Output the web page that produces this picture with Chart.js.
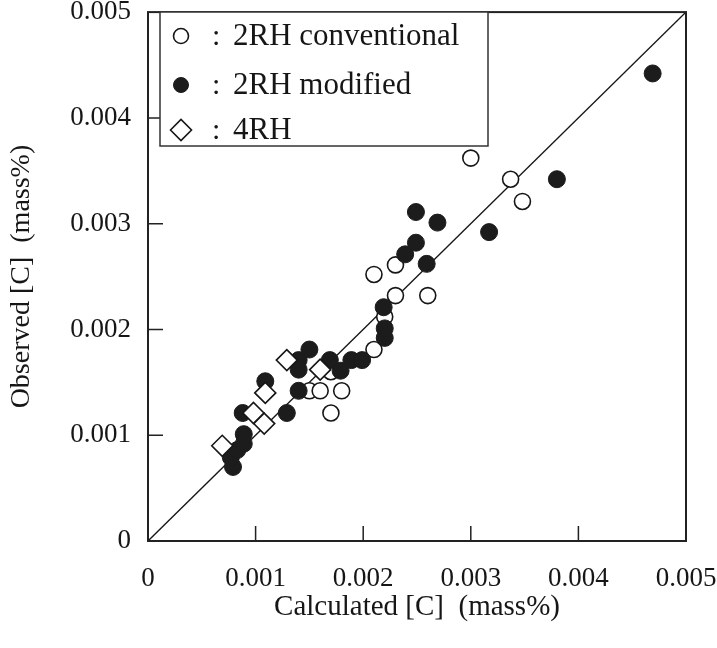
<!DOCTYPE html>
<html>
<head>
<meta charset="utf-8">
<script src="https://cdn.jsdelivr.net/npm/chart.js@4.4.1/dist/chart.umd.min.js"></script>
<style>
  html, body { margin: 0; padding: 0; background: #fff; }
  #wrap { width: 717px; height: 648px; position: relative; }
</style>
</head>
<body>
<div id="wrap"><canvas id="c" width="717" height="648"></canvas></div>
<script>
// ---- data ----
const seriesNames = ['2RH conventional', '2RH modified', '4RH'];

const conventionalX = [0.0015, 0.0016, 0.0018, 0.0017, 0.0017, 0.0021, 0.0022, 0.0021, 0.0023, 0.0023, 0.0026, 0.0030, 0.00337, 0.00348];
const conventionalY = [0.00142, 0.00142, 0.00142, 0.00121, 0.0016, 0.00181, 0.00212, 0.00252, 0.00232, 0.00261, 0.00232, 0.00362, 0.00342, 0.00321];

const modifiedX = [0.00079, 0.00077, 0.00083, 0.00089, 0.00089, 0.00088, 0.00109, 0.00129, 0.0014, 0.0014, 0.0014, 0.0015, 0.00169, 0.00179, 0.00189, 0.00199, 0.0022, 0.0022, 0.00219, 0.00239, 0.00249, 0.00249, 0.00269, 0.00259, 0.00317, 0.0038, 0.00469];
const modifiedY = [0.0007, 0.00079, 0.00086, 0.00092, 0.00101, 0.00121, 0.00151, 0.00121, 0.00142, 0.00162, 0.00171, 0.00181, 0.00171, 0.00161, 0.00171, 0.00171, 0.00192, 0.00201, 0.00221, 0.00271, 0.00282, 0.00311, 0.00301, 0.00262, 0.00292, 0.00342, 0.00442];

const rh4X = [0.00069, 0.00098, 0.00108, 0.00109, 0.00129, 0.0016];
const rh4Y = [0.0009, 0.00121, 0.00111, 0.0014, 0.00171, 0.00162];

const diagonalX = [0, 0.005];
const diagonalY = [0, 0.005];

const tickValues = [0, 0.001, 0.002, 0.003, 0.004, 0.005];
const tickLabels = ['0', '0.001', '0.002', '0.003', '0.004', '0.005'];
const innerTickValues = [0.001, 0.002, 0.003, 0.004];

const xTitle = 'Calculated [C]  (mass%)';
const yTitle = 'Observed [C]  (mass%)';

// ---- build ----
const pts = (xs, ys) => xs.map((x, i) => ({ x: x, y: ys[i] }));
const INK = '#161616';
const SERIF = "'Liberation Serif', 'Times New Roman', serif";

const datasets = [
  { label: seriesNames[2], data: pts(rh4X, rh4Y), pointStyle: 'rectRot', pointRadius: 10.5,
    backgroundColor: '#ffffff', borderColor: INK, pointBorderWidth: 1.6, order: 0 },
  { label: seriesNames[1], data: pts(modifiedX, modifiedY), pointStyle: 'circle', pointRadius: 8.5,
    backgroundColor: '#1c1c1c', borderColor: '#1c1c1c', pointBorderWidth: 1, order: 1 },
  { label: seriesNames[0], data: pts(conventionalX, conventionalY), pointStyle: 'circle', pointRadius: 8,
    backgroundColor: '#ffffff', borderColor: INK, pointBorderWidth: 1.6, order: 2 },
  { label: 'y=x', type: 'line', data: pts(diagonalX, diagonalY), showLine: true, pointRadius: 0,
    borderColor: INK, borderWidth: 1.4, fill: false, order: 3 }
];

const frameAndTicks = {
  id: 'frameAndTicks',
  afterDatasetsDraw(chart) {
    const { ctx, chartArea: a, scales } = chart;
    ctx.save();
    ctx.strokeStyle = '#222';
    ctx.lineWidth = 1.5;
    ctx.beginPath();
    innerTickValues.forEach(v => {
      const px = scales.x.getPixelForValue(v);
      ctx.moveTo(px, a.bottom); ctx.lineTo(px, a.bottom - 15);
      const py = scales.y.getPixelForValue(v);
      ctx.moveTo(a.left, py); ctx.lineTo(a.left + 15, py);
    });
    ctx.stroke();
    ctx.lineWidth = 2;
    ctx.strokeRect(a.left, a.top, a.right - a.left, a.bottom - a.top);
    ctx.restore();
  },
  afterDraw(chart) {
    // boxed legend
    const { ctx } = chart;
    const bx = 160, by = 12, bw = 328, bh = 134;
    ctx.save();
    ctx.fillStyle = '#fff';
    ctx.fillRect(bx, by, bw, bh);
    ctx.strokeStyle = '#333';
    ctx.lineWidth = 1.5;
    ctx.strokeRect(bx, by, bw, bh);
    const order = [2, 1, 0]; // conventional, modified, 4RH
    const rowsY = [36, 85, 130];
    order.forEach((di, r) => {
      const ds = chart.data.datasets[di];
      const cy = rowsY[r], cx = 181;
      ctx.beginPath();
      if (ds.pointStyle === 'rectRot') {
        const s = 10.5;
        ctx.moveTo(cx - s, cy); ctx.lineTo(cx, cy - s); ctx.lineTo(cx + s, cy); ctx.lineTo(cx, cy + s); ctx.closePath();
      } else {
        ctx.arc(cx, cy, 7.5, 0, Math.PI * 2);
      }
      ctx.fillStyle = ds.backgroundColor;
      ctx.fill();
      ctx.lineWidth = ds.pointBorderWidth;
      ctx.strokeStyle = ds.borderColor;
      ctx.stroke();
      ctx.fillStyle = INK;
      ctx.textBaseline = 'middle';
      ctx.textAlign = 'left';
      ctx.font = '30px ' + SERIF;
      ctx.fillText(':', 212, cy + 1);
      ctx.font = '31px ' + SERIF;
      ctx.fillText(ds.label, 233, cy + 1);
    });
    ctx.restore();
  }
};

new Chart(document.getElementById('c'), {
  type: 'scatter',
  data: { datasets },
  options: {
    responsive: false,
    animation: false,
    devicePixelRatio: 1,
    layout: { padding: { top: 8, right: 31, left: 0, bottom: 0 } },
    plugins: { legend: { display: false }, tooltip: { enabled: false } },
    scales: {
      x: {
        type: 'linear', min: 0, max: 0.005,
        afterBuildTicks: s => { s.ticks = tickValues.map(v => ({ value: v })); },
        afterFit: s => { s.height = 107; s.paddingLeft = 0; s.paddingRight = 0; },
        grid: { display: false, drawTicks: false },
        border: { display: false },
        ticks: { padding: 22, color: INK, font: { family: SERIF, size: 27 },
                 callback: (v, i) => tickLabels[i], maxRotation: 0, autoSkip: false },
        title: { display: true, text: xTitle, color: INK, font: { family: SERIF, size: 29 },
                 padding: { top: 0, bottom: 23 } }
      },
      y: {
        type: 'linear', min: 0, max: 0.005,
        afterBuildTicks: s => { s.ticks = tickValues.map(v => ({ value: v })); },
        afterFit: s => { s.width = 148; s.paddingTop = 0; s.paddingBottom = 0; },
        grid: { display: false, drawTicks: false },
        border: { display: false },
        ticks: { padding: 17, color: INK, font: { family: SERIF, size: 27 },
                 callback: (v, i) => tickLabels[i], autoSkip: false },
        title: { display: true, text: yTitle, color: INK, font: { family: SERIF, size: 28 },
                 padding: { top: 5, bottom: 0 } }
      }
    }
  },
  plugins: [frameAndTicks]
});
</script>
</body>
</html>
